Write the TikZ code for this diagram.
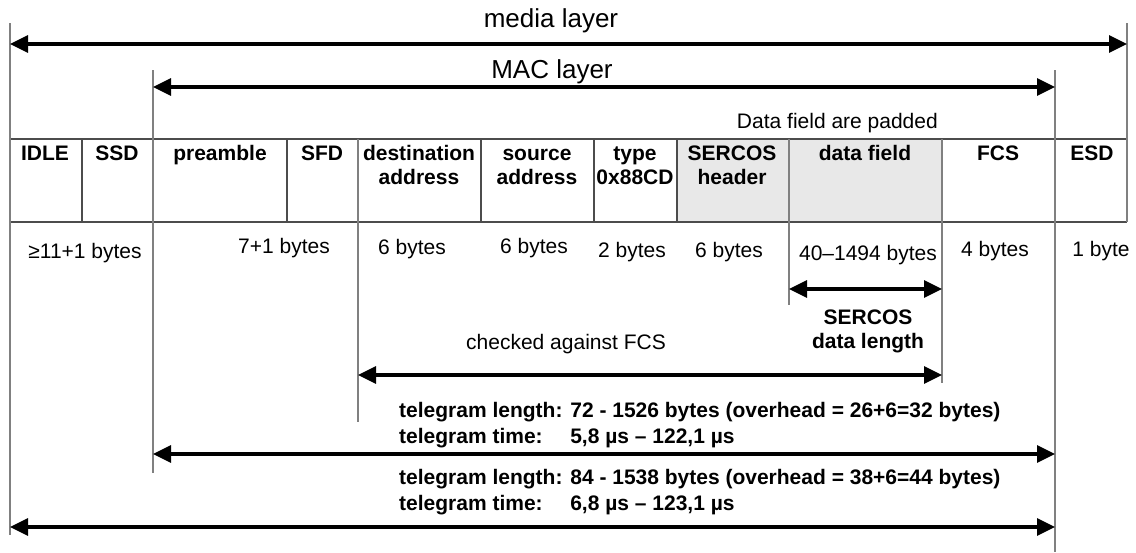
\documentclass[tikz,border=0pt]{standalone}
\usepackage{fontspec}
\setmainfont{Liberation Sans}
\usetikzlibrary{arrows.meta}
\begin{document}
\begin{tikzpicture}[x=1pt,y=-1pt,
  tip/.tip={Triangle[length=18pt,width=17pt]},
  darr/.style={line width=3.2pt,{tip}-{tip}},
  guide/.style={draw=black!50,line width=1.2pt},
  grid/.style={draw=black!70,line width=1.2pt},
  shade/.style={fill=black!9},
  hdr/.style={anchor=north,inner sep=0pt,align=center,font=\fontsize{21}{24}\selectfont\bfseries},
  lbl/.style={anchor=base,inner sep=0pt,font=\fontsize{21}{24}\selectfont},
  big/.style={anchor=base,inner sep=0pt,font=\fontsize{26}{30}\selectfont},
  blbl/.style={anchor=base,inner sep=0pt,align=center,font=\fontsize{21}{24}\selectfont\bfseries},
  tele/.style={anchor=base west,inner sep=0pt,font=\fontsize{21}{26}\selectfont\bfseries}
]
\useasboundingbox (0,0) rectangle (1136,552);

% shaded cells
\path[shade] (677,139) rectangle (789,222);
\path[shade] (789,139) rectangle (942,222);

% table
\draw[grid] (10,139) -- (1127,139);
\draw[grid] (10,222) -- (1127,222);
\foreach \x in {82,287,481,594,677}{\draw[grid] (\x,139) -- (\x,222);}

% named guide coordinates
\coordinate (gA1) at (10,23);    \coordinate (gA2) at (10,535);
\coordinate (gB1) at (153,70);   \coordinate (gB2) at (153,473);
\coordinate (gC1) at (358,139);  \coordinate (gC2) at (358,422);
\coordinate (gD1) at (789,139);  \coordinate (gD2) at (789,305);
\coordinate (gE1) at (942,139);  \coordinate (gE2) at (942,383);
\coordinate (gF1) at (1055,70);  \coordinate (gF2) at (1055,552);
\coordinate (gG1) at (1127,23);  \coordinate (gG2) at (1127,222);
\draw[guide] (gA1) -- (gA2);
\draw[guide] (gB1) -- (gB2);
\draw[guide] (gC1) -- (gC2);
\draw[guide] (gD1) -- (gD2);
\draw[guide] (gE1) -- (gE2);
\draw[guide] (gF1) -- (gF2);
\draw[guide] (gG1) -- (gG2);

% header texts
\node[hdr] (idle) at (45,143) {\strut IDLE};
\node[hdr] (ssd) at (117,143) {\strut SSD};
\node[hdr] (pre) at (220,143) {\strut preamble};
\node[hdr] (sfd) at (322,143) {\strut SFD};
\node[hdr] (dst) at (419,143) {\strut destination\\address};
\node[hdr] (src) at (537,143) {\strut source\\address};
\node[hdr] (typ) at (635,143) {\strut type\\0x88CD};
\node[hdr] (shd) at (732,143) {\strut SERCOS\\header};
\node[hdr] (dat) at (865,143) {\strut data field};
\node[hdr] (fcs) at (998,143) {\strut FCS};
\node[hdr] (esd) at (1092,143) {\strut ESD};

% byte labels
\node[lbl] (b1) at (85,258) {≥11+1 bytes};
\node[lbl] (b2) at (284,253) {7+1 bytes};
\node[lbl] (b3) at (412,254) {6 bytes};
\node[lbl] (b4) at (534,253) {6 bytes};
\node[lbl] (b5) at (632,257) {2 bytes};
\node[lbl] (b6) at (729,257) {6 bytes};
\node[lbl] (b7) at (868,260) {40–1494 bytes};
\node[lbl] (b8) at (995,256) {4 bytes};
\node[lbl] (b9) at (1101,256) {1 byte};

% layer labels
\node[big] (media) at (551,27) {media layer};
\node[big] (mac) at (552,78) {MAC layer};
\node[lbl,anchor=base east] (pad) at (938,128) {Data field are padded};

% arrows
\coordinate (mL) at (10,44);   \coordinate (mR) at (1127,44);
\coordinate (cL) at (153,87);  \coordinate (cR) at (1055,87);
\coordinate (sL) at (789,289); \coordinate (sR) at (942,289);
\coordinate (kL) at (358,375); \coordinate (kR) at (942,375);
\coordinate (t1L) at (153,454); \coordinate (t1R) at (1055,454);
\coordinate (t2L) at (10,527);  \coordinate (t2R) at (1055,527);
\draw[darr] (mL) -- (mR);
\draw[darr] (cL) -- (cR);
\draw[darr] (sL) -- (sR);
\draw[darr] (kL) -- (kR);
\draw[darr] (t1L) -- (t1R);
\draw[darr] (t2L) -- (t2R);

\node[blbl] (sdl) at (868,348) {SERCOS\\data length};
\node[lbl] (chk) at (566,349) {checked against FCS};

\node[tele] (tg1) at (399,417)
  {\begin{tabular}[t]{@{}l@{ }l@{}}telegram length:&72 - 1526 bytes (overhead = 26+6=32 bytes)\\telegram time:&5,8 µs – 122,1 µs\end{tabular}};
\node[tele] (tg2) at (399,484)
  {\begin{tabular}[t]{@{}l@{ }l@{}}telegram length:&84 - 1538 bytes (overhead = 38+6=44 bytes)\\telegram time:&6,8 µs – 123,1 µs\end{tabular}};
\end{tikzpicture}
\end{document}
